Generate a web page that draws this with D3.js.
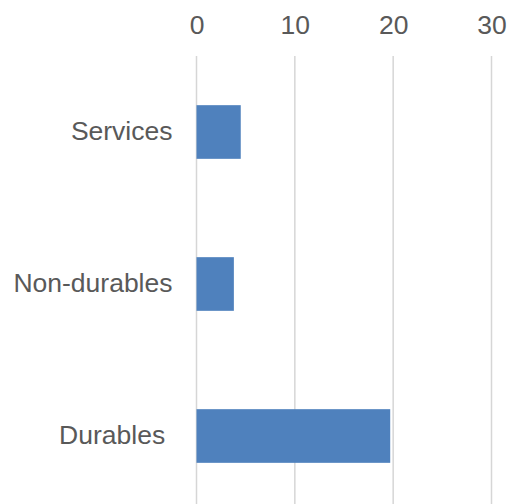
<!DOCTYPE html>
<html>
<head>
<meta charset="utf-8">
<script src="https://cdn.jsdelivr.net/npm/d3@7"></script>
<style>
  html, body { margin: 0; padding: 0; background: #fff; }
  svg { display: block; }
  text { font-family: "Liberation Sans", Arial, sans-serif; fill: #595959; white-space: pre; }
</style>
</head>
<body>
<svg id="chart" width="508" height="504"></svg>
<script>
// Categories (top to bottom) and their values
const categories = ["Services", "Non-durables", "Durables "];
const values = [4.5, 3.8, 19.7];
const tickValues = [0, 10, 20, 30];

const svg = d3.select("#chart");

const x = d3.scaleLinear().domain([0, 30]).range([196.5, 491.5]);
const y = d3.scaleBand()
  .domain(categories)
  .range([56, 512])
  .paddingInner(0.647)
  .paddingOuter(0.3235);

// Vertical gridlines
svg.append("g")
  .selectAll("line")
  .data(tickValues)
  .join("line")
  .attr("x1", d => x(d))
  .attr("x2", d => x(d))
  .attr("y1", 56)
  .attr("y2", 512)
  .attr("stroke", "#d6d6d6")
  .attr("stroke-width", 1.5);

// Top axis tick labels
const axis = d3.axisTop(x).tickValues(tickValues).tickSize(0).tickPadding(0).tickFormat(d3.format("d"));
const ga = svg.append("g").attr("transform", "translate(0,33.5)").call(axis);
ga.select(".domain").remove();
ga.selectAll("text")
  .attr("font-size", 26.5)
  .attr("dy", null)
  .attr("y", 0)
  .style("font-family", "'Liberation Sans', Arial, sans-serif")
  .attr("fill", "#595959");

// Bars
svg.append("g")
  .selectAll("rect")
  .data(categories.map((c, i) => ({ c, v: values[i] })))
  .join("rect")
  .attr("x", x(0))
  .attr("y", d => y(d.c))
  .attr("width", d => x(d.v) - x(0))
  .attr("height", y.bandwidth())
  .attr("fill", "#4f81bd");

// Category labels
svg.append("g")
  .selectAll("text")
  .data(categories)
  .join("text")
  .attr("x", 172.5)
  .attr("y", d => y(d) + y.bandwidth() / 2)
  .attr("dy", "0.3em")
  .attr("text-anchor", "end")
  .attr("font-size", 26.5)
  .text(d => d);
</script>
</body>
</html>
